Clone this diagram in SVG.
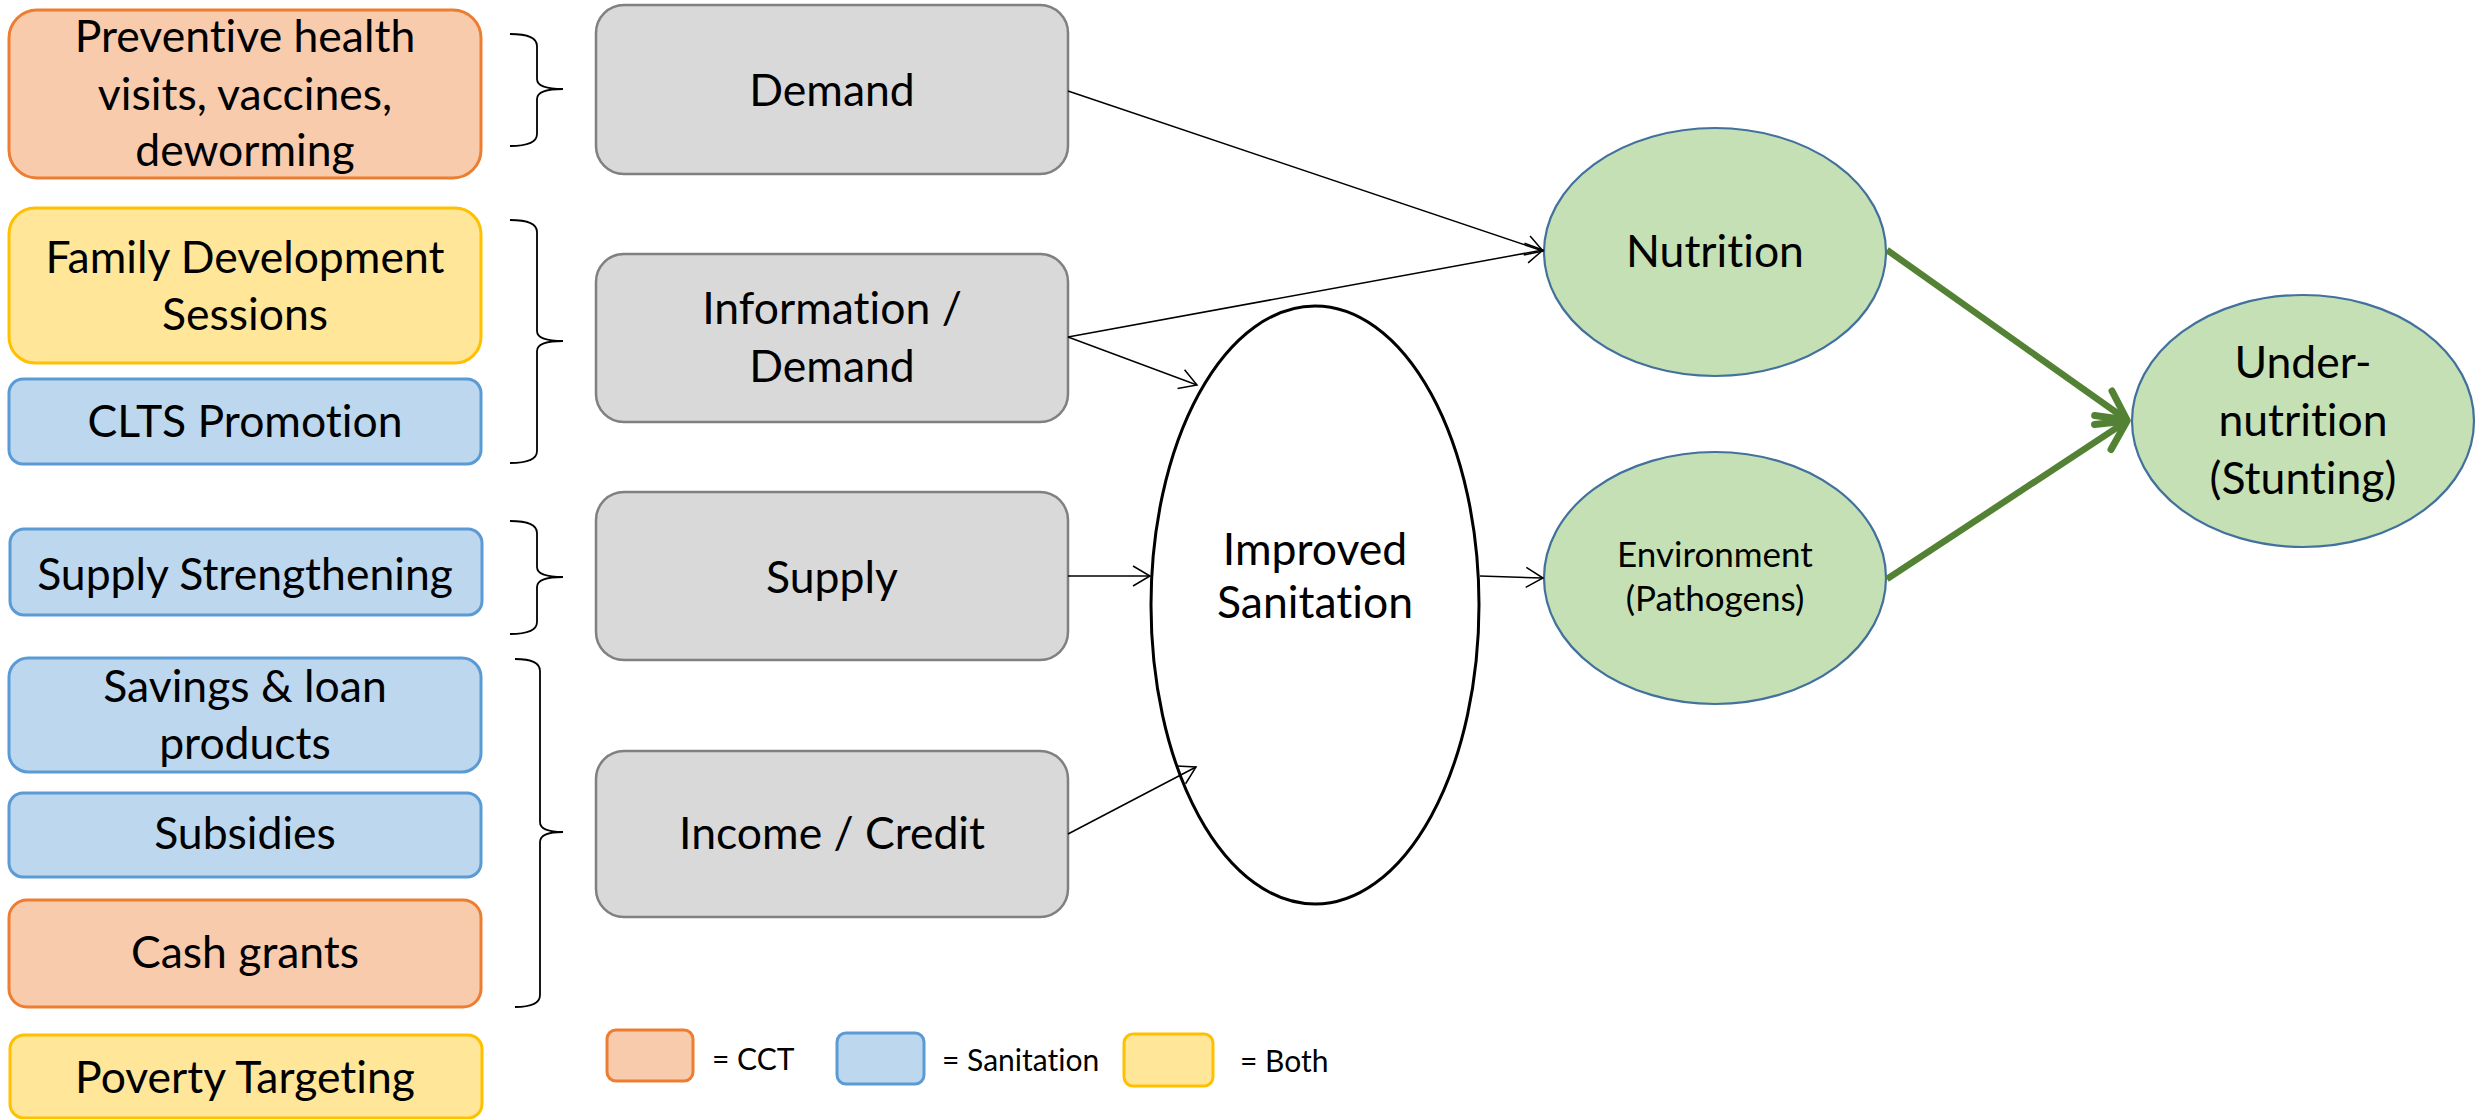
<svg xmlns="http://www.w3.org/2000/svg" width="2478" height="1119" viewBox="0 0 2478 1119">
<style>
text{font-family:Lato,"Liberation Sans",sans-serif;fill:#000;text-anchor:middle;font-variant-ligatures:none;font-feature-settings:"liga" 0,"dlig" 0}
.t{font-size:44.5px}
.ts{font-size:35px}
.tl{font-size:30px;text-anchor:start}
.cct{fill:#F8CBAD;stroke:#ED7D31;stroke-width:3}
.san{fill:#BDD7EE;stroke:#5B9BD5;stroke-width:3}
.both{fill:#FFE699;stroke:#FFC000;stroke-width:3}
.gray{fill:#D9D9D9;stroke:#808080;stroke-width:2.5}
.green{fill:#C5E0B4;stroke:#41719C;stroke-width:2.2}
.brace{fill:none;stroke:#000;stroke-width:1.8}
.thin{fill:none;stroke:#000;stroke-width:1.5;marker-end:url(#ah)}
.thick{fill:none;stroke:#548235;stroke-width:6.5;marker-end:url(#ahg)}
</style>
<defs>
<marker id="ah" markerUnits="userSpaceOnUse" orient="auto" markerWidth="40" markerHeight="40" viewBox="-20 -20 40 40" refX="0" refY="0" overflow="visible">
<path d="M-17,-10 L0,0 L-17,10" fill="none" stroke="#000" stroke-width="1.5"/>
</marker>
<marker id="ahg" markerUnits="userSpaceOnUse" orient="auto" markerWidth="80" markerHeight="80" viewBox="-40 -40 80 80" refX="0" refY="0" overflow="visible">
<path d="M-29,-15 L0,0 L-29,15" fill="none" stroke="#548235" stroke-width="7" stroke-linecap="round" stroke-linejoin="round"/>
</marker>
</defs>
<rect width="2478" height="1119" fill="#fff"/>

<g id="preventive"><rect class="cct" x="9" y="10" width="472" height="168" rx="28"/>
<text class="t" x="245" y="52">Preventive health</text><text class="t" x="245" y="110">visits, vaccines,</text><text class="t" x="245" y="166">deworming</text></g>
<g id="family-dev"><rect class="both" x="9" y="208" width="472" height="155" rx="26"/>
<text class="t" x="245" y="273">Family Development</text><text class="t" x="245" y="330">Sessions</text></g>
<g id="clts"><rect class="san" x="9" y="379" width="472" height="85" rx="14"/>
<text class="t" x="245" y="437">CLTS Promotion</text></g>
<g id="supply-str"><rect class="san" x="10" y="529" width="472" height="86" rx="14"/>
<text class="t" x="245" y="590">Supply Strengthening</text></g>
<g id="savings"><rect class="san" x="9" y="658" width="472" height="114" rx="19"/>
<text class="t" x="245" y="702">Savings &amp; loan</text><text class="t" x="245" y="759">products</text></g>
<g id="subsidies"><rect class="san" x="9" y="793" width="472" height="84" rx="14"/>
<text class="t" x="245" y="849">Subsidies</text></g>
<g id="cash"><rect class="cct" x="9" y="900" width="472" height="107" rx="18"/>
<text class="t" x="245" y="968">Cash grants</text></g>
<g id="poverty"><rect class="both" x="10" y="1035" width="472" height="83" rx="14"/>
<text class="t" x="245" y="1093">Poverty Targeting</text></g>

<g id="braces">
<path class="brace" d="M510,34 Q537,34 537,46 L537,79 Q537,89 563,89 Q537,89 537,99 L537,134 Q537,146 510,146"/>
<path class="brace" d="M510,220 Q537,220 537,232 L537,331 Q537,341 563,341 Q537,341 537,351 L537,451 Q537,463 510,463"/>
<path class="brace" d="M510,521 Q537,521 537,533 L537,567 Q537,577 563,577 Q537,577 537,587 L537,622 Q537,634 510,634"/>
<path class="brace" d="M515,659 Q540,659 540,671 L540,822 Q540,832 563,832 Q540,832 540,842 L540,995 Q540,1007 515,1007"/>
</g>

<g id="demand"><rect class="gray" x="596" y="5" width="472" height="169" rx="28"/>
<text class="t" x="832" y="106">Demand</text></g>
<g id="info-demand"><rect class="gray" x="596" y="254" width="472" height="168" rx="28"/>
<text class="t" x="832" y="324">Information /</text><text class="t" x="832" y="382">Demand</text></g>
<g id="supply"><rect class="gray" x="596" y="492" width="472" height="168" rx="28"/>
<text class="t" x="832" y="593">Supply</text></g>
<g id="income"><rect class="gray" x="596" y="751" width="472" height="166" rx="28"/>
<text class="t" x="832" y="849">Income / Credit</text></g>

<g id="sanitation"><ellipse cx="1315" cy="605" rx="164" ry="299" fill="#fff" stroke="#000" stroke-width="3"/>
<text class="t" x="1315" y="565">Improved</text><text class="t" x="1315" y="618">Sanitation</text></g>

<g id="nutrition"><ellipse class="green" cx="1715" cy="252" rx="171" ry="124"/>
<text class="t" x="1715" y="267">Nutrition</text></g>
<g id="environment"><ellipse class="green" cx="1715" cy="578" rx="171" ry="126"/>
<text class="ts" x="1715" y="567">Environment</text><text class="ts" x="1715" y="611">(Pathogens)</text></g>
<g id="stunting"><ellipse class="green" cx="2303" cy="421" rx="171" ry="126"/>
<text class="t" x="2303" y="378">Under-</text><text class="t" x="2303" y="436">nutrition</text><text class="t" x="2303" y="494">(Stunting)</text></g>

<g id="connectors">
<path class="thin" d="M1068,91 L1543,251"/>
<path class="thin" d="M1068,337 L1543,250"/>
<path class="thin" d="M1068,337 L1197,385"/>
<path class="thin" d="M1068,576 L1150,576"/>
<path class="thin" d="M1068,834 L1196,767"/>
<path class="thin" d="M1480,576 L1543,578"/>
<path class="thick" d="M1887,250 L2127,420"/>
<path class="thick" d="M1887,579 L2127,421"/>
</g>

<g id="legend">
<rect class="cct" x="607" y="1030" width="86" height="51" rx="9"/>
<text class="tl" x="712" y="1070">= CCT</text>
<rect class="san" x="837" y="1033" width="87" height="51" rx="9"/>
<text class="tl" x="942" y="1071">= Sanitation</text>
<rect class="both" x="1124" y="1034" width="89" height="52" rx="9"/>
<text class="tl" x="1240" y="1072">= Both</text>
</g>
</svg>
